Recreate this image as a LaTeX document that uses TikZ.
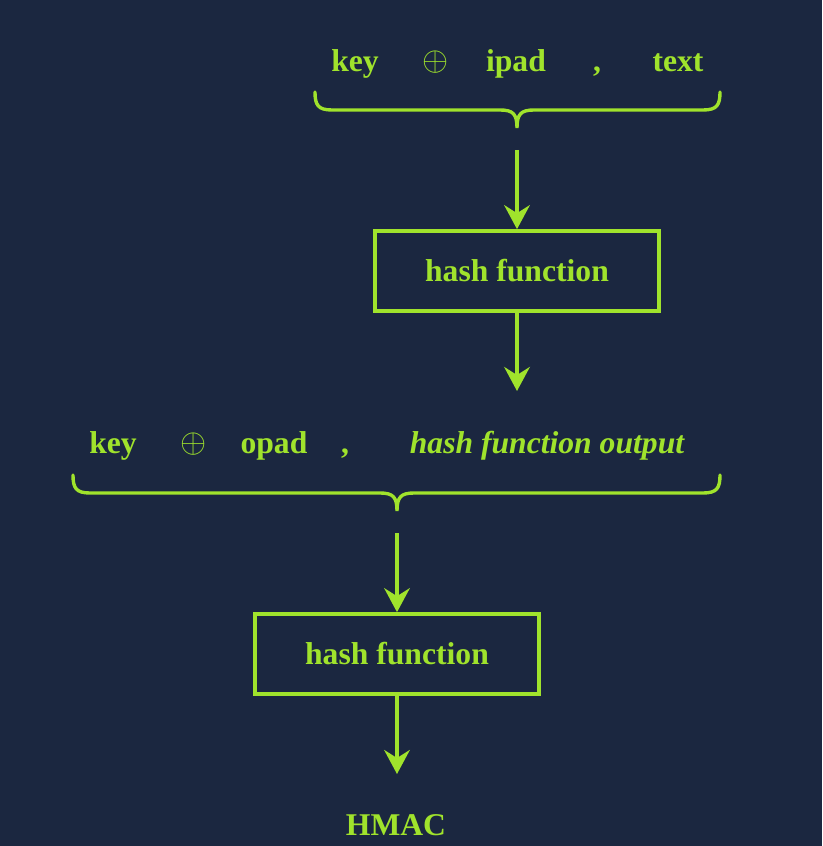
\documentclass[tikz,border=0pt]{standalone}
\usepackage{fontspec}
\setmainfont{Liberation Serif}
\usetikzlibrary{arrows.meta}
\definecolor{bgnavy}{HTML}{1B2740}
\definecolor{lime}{HTML}{A0E32C}
% curly brace under a row: left x, middle x, right x, top y
\newcommand\rowbrace[4]{%
  \draw[brc] (#1,#4) .. controls (#1,{#4+13}) and ({#1+3},{#4+18}) .. ({#1+17},{#4+18})
    -- ({#2-17},{#4+18}) .. controls ({#2-4},{#4+18}) and (#2,{#4+22}) .. (#2,{#4+36})
    .. controls (#2,{#4+22}) and ({#2+4},{#4+18}) .. ({#2+17},{#4+18})
    -- ({#3-17},{#4+18}) .. controls ({#3-3},{#4+18}) and (#3,{#4+13}) .. (#3,#4);}

\begin{document}
\begin{tikzpicture}[x=0.025cm,y=-0.025cm,font=\fontsize{22.5}{27}\selectfont\bfseries,text=lime,
  lbl/.style={inner sep=0pt,anchor=base},
  hbox/.style={draw=lime,line width=2.6pt,minimum width=7.1cm,minimum height=2cm,inner sep=0pt},
  arr/.style={draw=lime,line width=2.4pt,-{Stealth[length=0.6cm,width=0.64cm,inset=0.2cm]}},
  brc/.style={draw=lime,line width=2.4pt,line cap=round}]
\fill[bgnavy] (0,0) rectangle (822,846);
\useasboundingbox (0,0) rectangle (822,846);
% first input
\node[lbl] (k1) at (355,72) {key};
\node[lbl] (x1) at (436,71) {\scalebox{1.15}{$\oplus$}};
\node[lbl] (p1) at (516,72) {ipad};
\node[lbl] (c1) at (597,72) {,};
\node[lbl] (t1) at (678,72) {text};
\rowbrace{315}{517}{720}{92}
\coordinate (b1) at (517,150);
\node[hbox] (h1) at (517,271) {hash function};
\draw[arr] (b1) -- (h1);
\coordinate (o1) at (517,391);
\draw[arr] (h1) -- (o1);
% second input
\node[lbl] (k2) at (113,453) {key};
\node[lbl] (x2) at (194,452) {\scalebox{1.15}{$\oplus$}};
\node[lbl] (p2) at (274,453) {opad};
\node[lbl] (c2) at (345,453) {,};
\node[lbl] (t2) at (547,453) {\itshape hash function output};
\rowbrace{73}{397}{720}{475}
\coordinate (b2) at (397,533);
\node[hbox] (h2) at (397,654) {hash function};
\draw[arr] (b2) -- (h2);
\coordinate (o2) at (397,774);
\draw[arr] (h2) -- (o2);
\node[lbl] (mac) at (396,835) {HMAC};
\end{tikzpicture}
\end{document}
